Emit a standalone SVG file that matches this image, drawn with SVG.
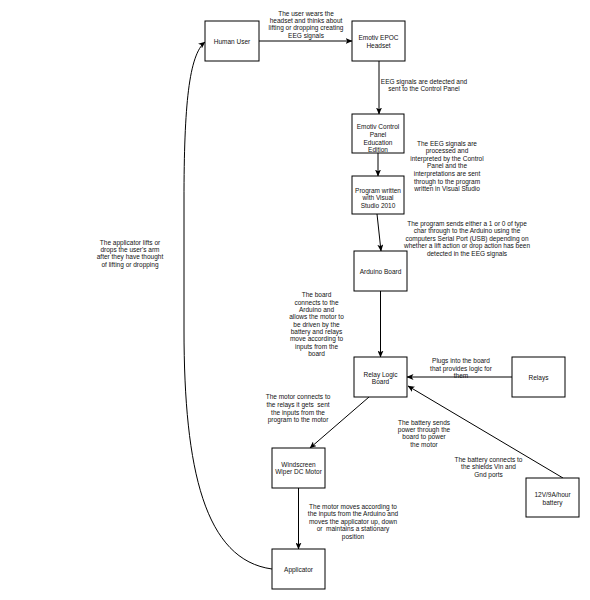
<svg xmlns="http://www.w3.org/2000/svg" width="590" height="600" viewBox="0 0 590 600">
<style>
.box{fill:#fff;stroke:#000;stroke-width:1}
.edge{fill:none;stroke:#000;stroke-width:1}
text{font-family:"Liberation Sans",Arial,sans-serif;font-size:6.5px;fill:#111;text-anchor:middle;white-space:pre}
</style>
<defs>
<marker id="arr" markerUnits="userSpaceOnUse" markerWidth="7" markerHeight="6" viewBox="0 0 7 6" refX="6.5" refY="3" orient="auto">
<path d="M0,0 L7,3 L0,6 L1.8,3 Z" fill="#000"/>
</marker>
</defs>
<rect width="590" height="600" fill="#fff"/>
<g id="connectors">
<line class="edge" x1="259" y1="41" x2="352" y2="41" marker-end="url(#arr)"/>
<line class="edge" x1="379" y1="61" x2="379" y2="114" marker-end="url(#arr)"/>
<line class="edge" x1="378" y1="153" x2="378" y2="176" marker-end="url(#arr)"/>
<line class="edge" x1="377" y1="214" x2="381" y2="251" marker-end="url(#arr)"/>
<line class="edge" x1="380.5" y1="291" x2="380.5" y2="357" marker-end="url(#arr)"/>
<line class="edge" x1="512" y1="377" x2="407" y2="377" marker-end="url(#arr)"/>
<line class="edge" x1="369" y1="397" x2="310" y2="448" marker-end="url(#arr)"/>
<line class="edge" x1="563" y1="478" x2="408" y2="386" marker-end="url(#arr)"/>
<line class="edge" x1="298.5" y1="488" x2="298.5" y2="549" marker-end="url(#arr)"/>
<path class="edge" d="M272,569 C205,560 184,470 184,330 L184,200 C184,105 189,55 205,42" marker-end="url(#arr)"/>
</g>
<g id="labels">
<text><tspan x="306" y="15.8">The user wears the</tspan><tspan x="306" y="23">headset and thinks about</tspan><tspan x="306" y="30.3">lifting or dropping creating</tspan><tspan x="306" y="37.6">EEG signals</tspan></text>
<text><tspan x="424" y="83.5">EEG signals are detected and</tspan><tspan x="424" y="90.8">sent to the Control Panel</tspan></text>
<text><tspan x="447" y="145.8">The EEG signals are</tspan><tspan x="447" y="153.3">processed and</tspan><tspan x="447" y="160.9">interpreted by the Control</tspan><tspan x="447" y="168.4">Panel and the</tspan><tspan x="447" y="176">interpretations are sent</tspan><tspan x="447" y="183.5">through to the program</tspan><tspan x="447" y="191.1">written in Visual Studio</tspan></text>
<text><tspan x="467" y="225.8">The program sends either a 1 or 0 of type</tspan><tspan x="467" y="233.3">char through to the Arduino using the</tspan><tspan x="467" y="240.8">computers Serial Port (USB) depending on</tspan><tspan x="467" y="248.3">whether a lift action or drop action has been</tspan><tspan x="467" y="255.8">detected in the EEG signals</tspan></text>
<text><tspan x="316.5" y="297.2">The board</tspan><tspan x="316.5" y="304.6">connects to the</tspan><tspan x="316.5" y="311.9">Arduino and</tspan><tspan x="316.5" y="319.3">allows the motor to</tspan><tspan x="316.5" y="326.7">be driven by the</tspan><tspan x="316.5" y="334.1">battery and relays</tspan><tspan x="316.5" y="341.4">move according to</tspan><tspan x="316.5" y="348.8">inputs from the</tspan><tspan x="316.5" y="356.2">board</tspan></text>
<text><tspan x="461" y="363.2">Plugs into the board</tspan><tspan x="461" y="370.7">that provides logic for</tspan><tspan x="461" y="378.2">them</tspan></text>
<text><tspan x="298" y="399.2">The motor connects to</tspan><tspan x="298" y="406.8">the relays it gets  sent</tspan><tspan x="298" y="414.5">the inputs from the</tspan><tspan x="298" y="422.2">program to the motor</tspan></text>
<text><tspan x="424" y="424.5">The battery sends</tspan><tspan x="424" y="431.8">power through the</tspan><tspan x="424" y="439.2">board to power</tspan><tspan x="424" y="446.5">the motor</tspan></text>
<text><tspan x="488.5" y="461.8">The battery connects to</tspan><tspan x="488.5" y="469.2">the shields Vin and</tspan><tspan x="488.5" y="476.5">Gnd ports</tspan></text>
<text><tspan x="353" y="508.5">The motor moves according to</tspan><tspan x="353" y="516.1">the inputs from the Arduino and</tspan><tspan x="353" y="523.7">moves the applicator up, down</tspan><tspan x="353" y="531.3">or  maintains a stationary</tspan><tspan x="353" y="538.9">position</tspan></text>
<text><tspan x="130" y="244.8">The applicator lifts or</tspan><tspan x="130" y="252">drops the user's arm</tspan><tspan x="130" y="259.3">after they have thought</tspan><tspan x="130" y="266.6">of lifting or dropping</tspan></text>
</g>
<g id="human-user"><rect class="box" x="205" y="21" width="54" height="40"/><text x="232" y="43.5">Human User</text></g>
<g id="headset"><rect class="box" x="352" y="21" width="53" height="40"/><text><tspan x="378.5" y="40">Emotiv EPOC</tspan><tspan x="378.5" y="48">Headset</tspan></text></g>
<g id="control-panel"><rect class="box" x="352" y="114" width="52" height="39"/><text><tspan x="378" y="129.2">Emotiv Control</tspan><tspan x="378" y="136.8">Panel</tspan><tspan x="378" y="144.5">Education</tspan><tspan x="378" y="151.8">Edition</tspan></text></g>
<g id="program"><rect class="box" x="352" y="176" width="52" height="38"/><text><tspan x="378" y="192.5">Program written</tspan><tspan x="378" y="200">with Visual</tspan><tspan x="378" y="207.5">Studio 2010</tspan></text></g>
<g id="arduino"><rect class="box" x="354" y="251" width="53" height="40"/><text x="380.5" y="273.5">Arduino Board</text></g>
<g id="relay-logic"><rect class="box" x="354" y="357" width="53" height="40"/><text><tspan x="380.5" y="376.5">Relay Logic</tspan><tspan x="380.5" y="384">Board</tspan></text></g>
<g id="relays"><rect class="box" x="512" y="357" width="53" height="40"/><text x="538.5" y="379.5">Relays</text></g>
<g id="motor"><rect class="box" x="272" y="448" width="53" height="40"/><text><tspan x="298.5" y="466.5">Windscreen</tspan><tspan x="298.5" y="474.2">Wiper DC Motor</tspan></text></g>
<g id="battery"><rect class="box" x="526" y="478" width="53" height="39"/><text><tspan x="552.5" y="496.8">12V/9A/hour</tspan><tspan x="552.5" y="504.5">battery</tspan></text></g>
<g id="applicator"><rect class="box" x="272" y="549" width="53" height="40"/><text x="298.5" y="571.5">Applicator</text></g>
</svg>
